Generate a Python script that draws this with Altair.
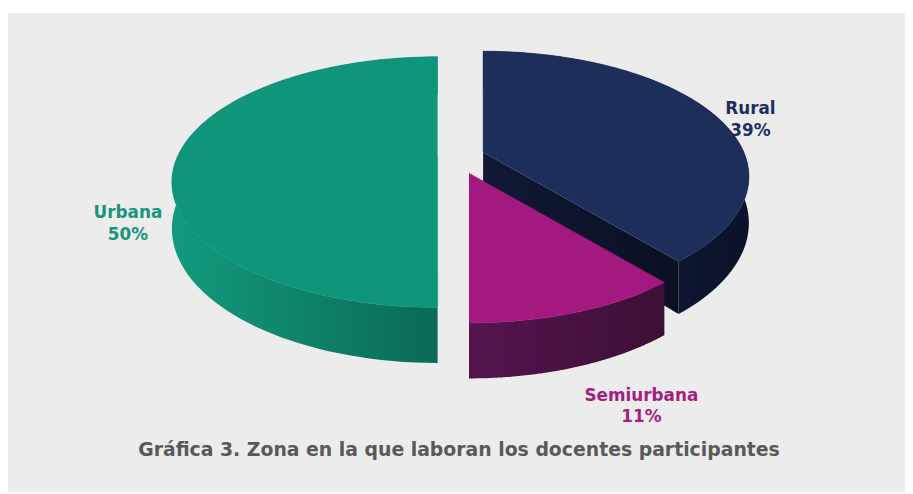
import altair as alt
import pandas as pd

# ---- data ----
zonas = ["Rural", "Semiurbana", "Urbana"]          # clockwise from 12 o'clock
porcentajes = [39, 11, 50]
orden = [1, 2, 3]

titulo = "Gráfica 3. Zona en la que laboran los docentes participantes"

df = pd.DataFrame({"zona": zonas, "pct": porcentajes, "orden": orden})

# ---- 3D pie geometry parameters (styling) ----
N = 90          # points per arc
P = 0.194       # perspective strength
BR = 0.4627     # vertical squash of the disc
D = 0.1716      # thickness
EX = 0.09       # explode distance
EY = 0.7        # vertical share of explode offset
PI2 = "2*PI"

XDOM = [-1.738, 1.703]
YDOM = [-0.5551, 1.2814]

top_col = {"Rural": "#1d2e5b", "Semiurbana": "#a3197f", "Urbana": "#0f957a"}
side_grad = {
    "Rural": ["#18224a", "#0b1129"],
    "Semiurbana": ["#55144d", "#3d0f37"],
    "Urbana": ["#139a7e", "#0a6a56"],
}
lab_col = {"Rural": "#1f2f5f", "Semiurbana": "#a31f80", "Urbana": "#17967c"}


def base():
    return (
        alt.Chart(df)
        .transform_window(cum="sum(pct)", sort=[alt.SortField("orden")])
        .transform_joinaggregate(total="sum(pct)")
        .transform_calculate(
            a0=f"(datum.cum - datum.pct) / datum.total * {PI2}",
            a1=f"datum.cum / datum.total * {PI2}",
        )
        .transform_calculate(am="(datum.a0 + datum.a1) / 2")
        .transform_calculate(
            ox=f"{EX} * sin(datum.am)",
            oy=f"-{EX} * {EY} * cos(datum.am)",
        )
    )


def enc(ch):
    return ch.encode(
        x=alt.X("sx:Q", scale=alt.Scale(domain=XDOM, nice=False, zero=False), axis=None),
        y=alt.Y("sy:Q", scale=alt.Scale(domain=YDOM, nice=False, zero=False, reverse=True), axis=None),
        order=alt.Order("k:Q"),
    )


def grad(c0, c1):
    return alt.LinearGradient(
        gradient="linear",
        stops=[alt.GradientStop(color=c0, offset=0), alt.GradientStop(color=c1, offset=1)],
        x1=0, x2=1, y1=0, y2=0,
    )


def project(ch):
    # rim: 1 on the rim, 0 at the apex; bot: 1 on the lower face
    return (
        ch.transform_calculate(
            X="datum.rim * sin(datum.phi)",
            Z="-datum.rim * cos(datum.phi)",
        )
        .transform_calculate(w=f"1 - {P} * datum.Z")
        .transform_calculate(
            sx="datum.X / datum.w + datum.ox",
            sy=f"({BR} * datum.Z + datum.bot * {D}) / datum.w + datum.oy",
        )
    )


def top_face(z):
    ch = (
        base()
        .transform_filter(alt.datum.zona == z)
        .transform_calculate(k=f"sequence(-1, {N + 1})")
        .transform_flatten(["k"])
        .transform_calculate(
            phi=f"datum.a0 + (datum.a1 - datum.a0) * max(datum.k, 0) / {N}",
            rim="datum.k < 0 ? 0 : 1",
            bot="0",
        )
    )
    ch = project(ch).mark_line(fill=top_col[z], stroke=top_col[z], strokeWidth=0.6)
    return enc(ch)


def side_face(z):
    c0, c1 = side_grad[z]
    ch = (
        base()
        .transform_filter(alt.datum.zona == z)
        .transform_calculate(k=f"sequence(0, {2 * N + 2})")
        .transform_flatten(["k"])
        .transform_calculate(
            j=f"datum.k <= {N} ? datum.k : {2 * N + 1} - datum.k",
            bot=f"datum.k > {N} ? 1 : 0",
            rim="1",
        )
        .transform_calculate(phi=f"datum.a0 + (datum.a1 - datum.a0) * datum.j / {N}")
    )
    ch = project(ch).mark_line(fill=grad(c0, c1), strokeWidth=0)
    return enc(ch)


def cut_face(z):
    ch = (
        base()
        .transform_filter(alt.datum.zona == z)
        .transform_calculate(k="sequence(0, 4)")
        .transform_flatten(["k"])
        .transform_calculate(
            rim="(datum.k == 1 || datum.k == 2) ? 1 : 0",
            bot="datum.k >= 2 ? 1 : 0",
            phi="datum.a1",
        )
    )
    ch = project(ch).mark_line(fill=grad("#111936", "#0a0f22"), strokeWidth=0)
    return enc(ch)


def label(z, x, y):
    return (
        alt.Chart(df)
        .transform_filter(alt.datum.zona == z)
        .transform_calculate(lab="[datum.zona, datum.pct + '%']")
        .mark_text(
            font="DejaVu Sans", fontWeight="bold", fontSize=17, color=lab_col[z],
            align="center", baseline="middle", lineHeight=22,
        )
        .encode(text="lab:N", x=alt.value(x), y=alt.value(y))
    )


title_layer = (
    alt.Chart(pd.DataFrame({"t": [titulo]}))
    .mark_text(font="DejaVu Sans", fontWeight="bold", fontSize=19, color="#595959",
               align="center", baseline="middle")
    .encode(text="t:N", x=alt.value(455), y=alt.value(441))
)

layers = [
    side_face("Rural"), cut_face("Rural"), top_face("Rural"),
    side_face("Urbana"), top_face("Urbana"),
    side_face("Semiurbana"), top_face("Semiurbana"),
    label("Rural", 749, 97), label("Urbana", 121, 202), label("Semiurbana", 639, 386),
    title_layer,
]

chart = (
    alt.layer(*layers)
    .properties(width=905, height=483, background="white",
                padding={"left": 0, "top": 3, "right": 0, "bottom": 0},
                autosize=alt.AutoSizeParams(type="none"))
    .configure_view(fill="#ececec", stroke=None)
)

chart.save("out.html", embed_options={"renderer": "svg", "actions": False})
